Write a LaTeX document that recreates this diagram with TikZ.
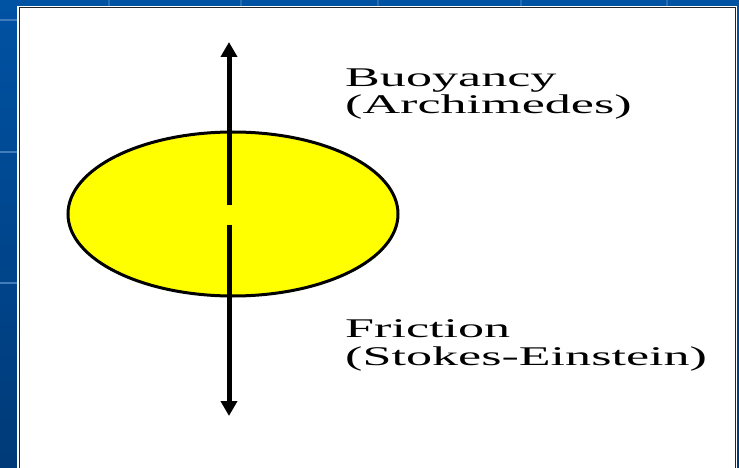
\documentclass[tikz,border=0pt]{standalone}
\usepackage{fontspec}
\usetikzlibrary{shapes.geometric,arrows.meta,positioning}
\newfontfamily\labelfont[FakeStretch=1.93]{Liberation Serif}
\definecolor{slideblue}{HTML}{0052A3}
\definecolor{slidedark}{HTML}{003A78}
\definecolor{ballyellow}{HTML}{FFFF00}

\begin{document}
\begin{tikzpicture}[x=1pt,y=-1pt,
  ball/.style={ellipse,draw=black,line width=3pt,fill=ballyellow,minimum width=330pt,minimum height=164pt,inner sep=0pt},
  force/.style={line width=5pt,-{Triangle[width=16pt,length=15pt]}},
  lbl/.style={align=left,anchor=base west,inner sep=0pt,font=\labelfont\fontsize{27}{28}\selectfont},
  seam/.style={slideblue!75!white,line width=1.5pt}
]
  % slide background and white panel
  \useasboundingbox (0,0) rectangle (739,468);
  \shade[top color=slideblue,bottom color=slidedark] (0,0) rectangle (739,468);
  \foreach \y in {20,152,283} \draw[seam] (0,\y) -- (17,\y);
  \foreach \x in {109,241,378,521,667} \draw[seam,slideblue!85!white] (\x,0) -- (\x,6);
  \fill[white] (17,6) rectangle (737,470);
  \draw[black!85,line width=1.5pt] (19.5,470) -- (19.5,7.5) -- (735.5,7.5) -- (735.5,470);
  % particle
  \node[ball] (ball) at (233,214) {};
  \coordinate (gtop) at (229,205);
  \coordinate (gbot) at (229,225);
  \coordinate (up) at (229,42);
  \coordinate (down) at (229,416);
  \draw[force] (gtop) -- (up);
  \draw[force] (gbot) -- (down);
  % labels
  \node[lbl] (buoy) at (345,114) {Buoyancy\\(Archimedes)};
  \node[lbl] (fric) at (345,365) {Friction\\(Stokes-Einstein)};
\end{tikzpicture}
\end{document}
